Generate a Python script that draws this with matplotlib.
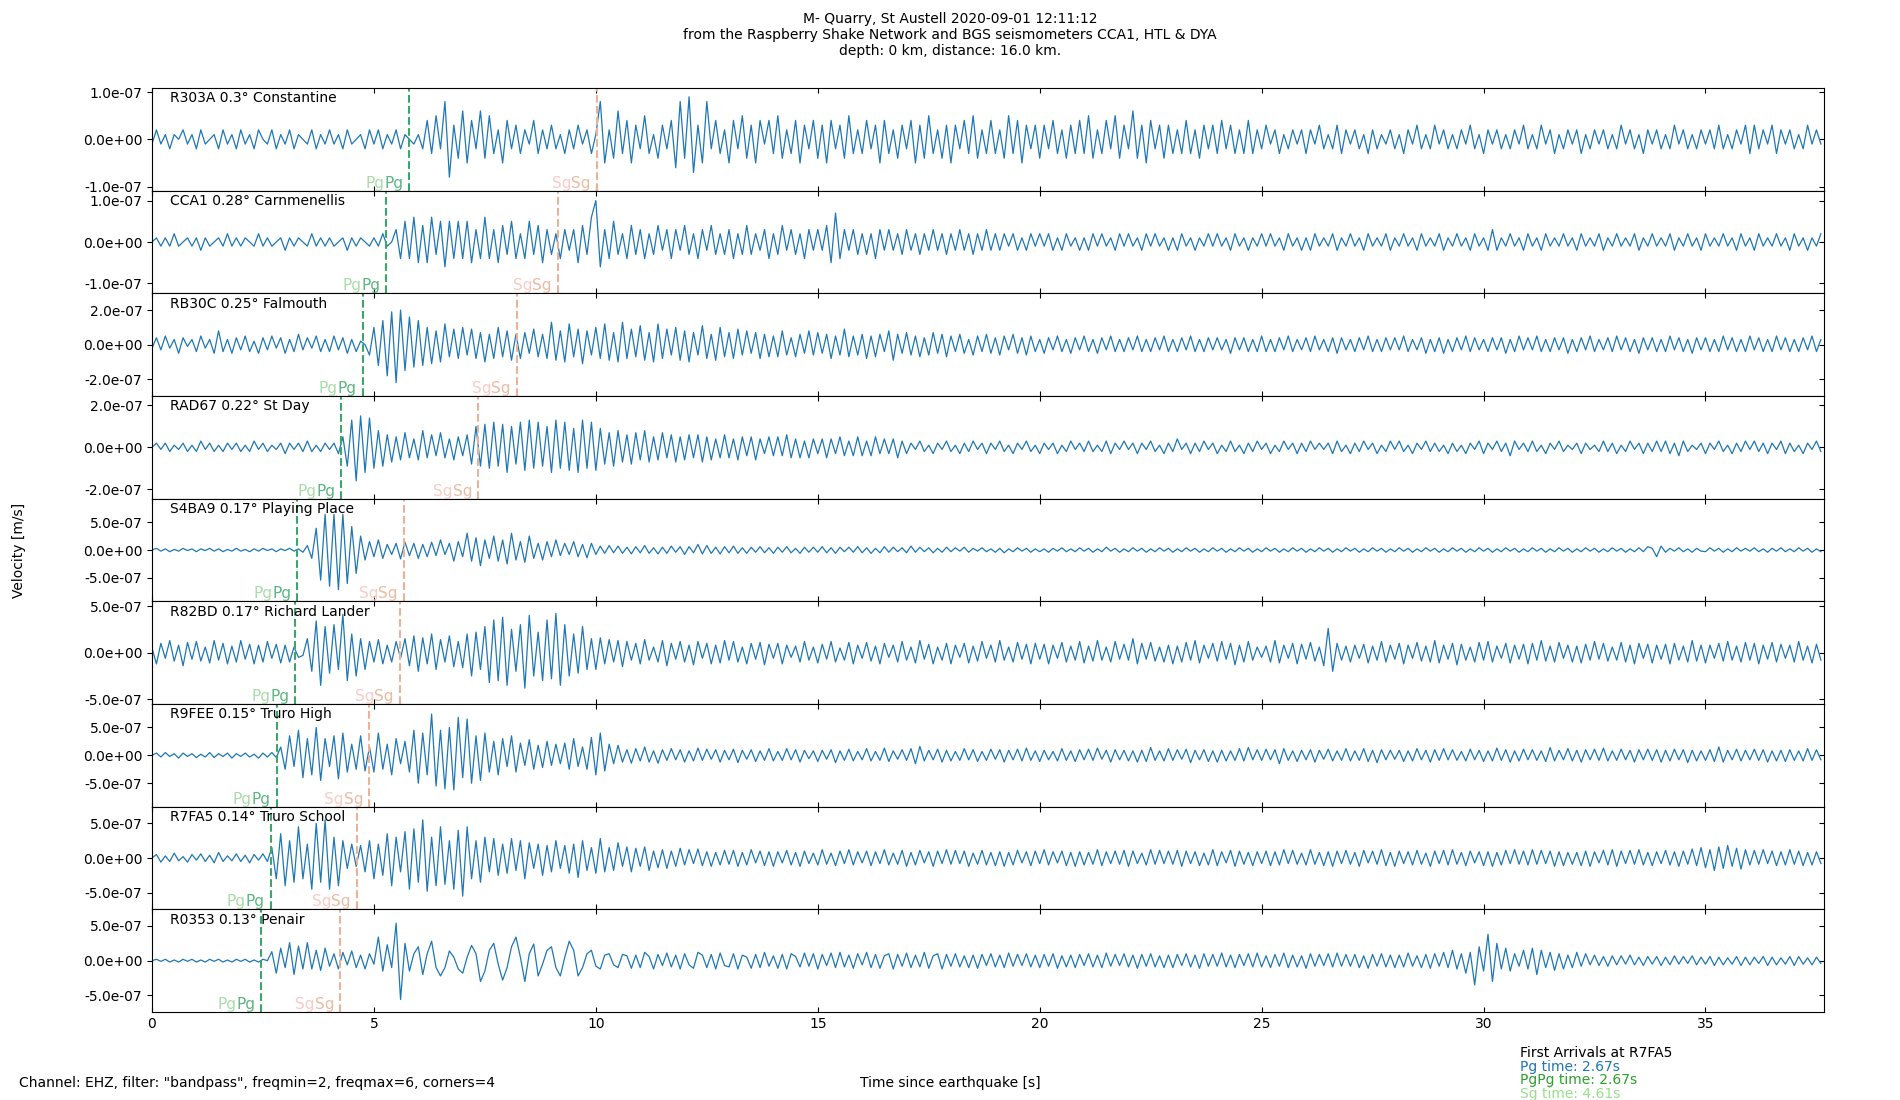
import numpy as np
import matplotlib
matplotlib.use('Agg')
import matplotlib.pyplot as plt
import matplotlib.lines as mlines
from matplotlib.ticker import FormatStrFormatter

# traces sampled every 0.1 s, values in units of 1e-8 m/s (one row = one second)
dt = 0.1
unit = 1e-8

r303a = [
    -1, 2, -1, 1, -2, 1, 0, 2, -1, 1,
    -2, 2, -1, 0, 1, -2, 2, -1, 1, -2,
    2, -1, 1, -2, 2, 0, -1, 2, -2, 1,
    -1, 2, -2, 1, 0, -1, 2, -2, 1, -1,
    2, -1, 1, -2, 2, -1, 0, 1, -2, 2,
    -1, 2, -2, 1, -1, 2, -2, 1, 0, -1,
    1, -2, 4, -3, 5, -2, 8, -8, 3, -4,
    6, -5, 4, -2, 6, -4, 5, -3, 2, -5,
    4, -2, 3, -3, 2, -1, 4, -3, 2, -2,
    3, -2, 1, -3, 2, -2, 3, -1, 2, -3,
    1, 8, -5, 2, -4, 6, -3, 4, -5, 3,
    -2, 5, -3, 1, -4, 3, -2, 4, -6, 8,
    -4, 9, -7, 3, -5, 8, -2, 4, -3, 2,
    -5, 4, -2, 5, -4, 3, -5, 4, -1, 4,
    -3, 5, -4, 2, -3, 4, -5, 3, -2, 4,
    -4, 3, -5, 4, -2, 3, -4, 5, -3, 2,
    -3, 4, -2, 3, -5, 4, -3, 2, -4, 3,
    -2, 4, -5, 3, -4, 5, -3, 2, -4, 3,
    -5, 3, -2, 4, -3, 5, -4, 2, -3, 4,
    -3, 2, -4, 5, -3, 4, -5, 3, -2, 3,
    -4, 3, -2, 4, -3, 2, -4, 3, -3, 4,
    -3, 5, -4, 2, -3, 4, -2, 5, -4, 3,
    -2, 6, -4, 3, -5, 4, -2, 3, -4, 3,
    -3, 2, -3, 4, -3, 2, -4, 3, -2, 3,
    -3, 4, -2, 3, -3, 2, -3, 4, -3, 2,
    -2, 3, -1, 2, -3, 1, -2, 2, -1, 2,
    -3, 2, -1, 3, -2, 1, -2, 3, -3, 2,
    -1, 2, -2, 1, -3, 2, -2, 1, -1, 2,
    -2, 1, -3, 2, -1, 3, -2, 1, -2, 3,
    -1, 2, -2, 1, -2, 2, -1, 3, -2, 1,
    -3, 2, -1, 2, -2, 1, -2, 2, -1, 3,
    -2, 1, -2, 3, -1, 2, -3, 1, -2, 2,
    -1, 2, -3, 1, -2, 2, -1, 2, -2, 1,
    -2, 3, -1, 2, -2, 1, -3, 2, -1, 2,
    -2, 1, -2, 3, -1, 2, -2, 1, -2, 2,
    -1, 2, -2, 3, -2, 1, -2, 2, -1, 3,
    -3, 3, -2, 2, -1, 3, -3, 2, -1, 2,
    -2, 1, -2, 3, -1, 2, -1,
]

cca1 = [
    0, 1, -1, 1, -1, 2, -1, 0, 1, -1,
    1, -2, 1, -1, 0, 1, -1, 2, -1, 1,
    -1, 1, 0, -1, 2, -1, 1, -1, 0, 1,
    -2, 1, -1, 1, 0, -1, 2, -1, 1, -1,
    1, -1, 0, 1, -2, 1, -1, 1, 0, -1,
    1, -1, 2, -1, 0, 3, -4, 5, -4, 6,
    -5, 4, -5, 6, -3, 5, -6, 5, -4, 5,
    -4, 5, -5, 3, -4, 6, -4, 3, -5, 4,
    -3, 5, -4, 2, -4, 5, -3, 4, -5, 3,
    -3, 2, -4, 3, -2, 3, -5, 4, -3, 6,
    10, -6, 3, -4, 5, -3, 2, -4, 4, -3,
    3, -4, 2, -3, 4, -2, 3, -4, 3, -2,
    4, -3, 2, -4, 3, -2, 4, -3, 2, -3,
    3, -4, 2, -3, 4, -3, 2, -2, 3, -4,
    2, -3, 4, -2, 3, -3, 2, -4, 3, -2,
    3, -2, 4, -5, 7, -4, 3, -2, 3, -3,
    2, -3, 2, -4, 3, -2, 3, -2, 2, -3,
    3, -2, 2, -3, 2, -2, 3, -2, 2, -3,
    2, -2, 3, -2, 2, -3, 2, -2, 3, -2,
    2, -2, 2, -1, 2, -2, 1, -2, 2, -1,
    2, -1, 2, -2, 1, -2, 2, -1, 1, -2,
    1, -2, 2, -1, 2, -1, 1, -2, 2, -1,
    2, -1, 1, -2, 2, -1, 2, -1, 1, -2,
    1, -2, 2, -1, 1, -2, 1, -1, 2, -1,
    2, -1, 1, -2, 2, -1, 1, -2, 1, -1,
    2, -1, 2, -1, 1, -2, 2, -1, 1, -2,
    1, -2, 2, -1, 1, -1, 2, -2, 1, -1,
    2, -1, 1, -2, 2, -1, 1, -1, 2, -2,
    1, -1, 2, -1, 1, -2, 2, -1, 1, -1,
    2, -2, 1, -1, 2, -1, 1, -2, 2, -1,
    1, -2, 3, -2, 1, -1, 2, -1, 1, -2,
    2, -1, 1, -2, 2, -1, 1, -1, 2, -1,
    1, -2, 2, -1, 1, -1, 2, -2, 1, -1,
    2, -1, 1, -1, 2, -2, 1, -1, 2, -1,
    1, -1, 2, -2, 1, -1, 2, -1, 1, -2,
    2, -1, 1, -1, 2, -1, 1, -2, 2, -1,
    1, -2, 2, -1, 1, -1, 2, -1, 1, -2,
    2, -1, 1, -2, 1, -1, 2,
]

rb30c = [
    -2, 4, -3, 5, -2, 3, -5, 4, -1, 3,
    -4, 5, -2, 3, -5, 8, -4, 3, -5, 4,
    -3, 5, -4, 2, -5, 4, -3, 5, -2, 4,
    -5, 3, -4, 6, -3, 4, -2, 5, -4, 3,
    -4, 5, -3, 4, -5, 3, -4, 2, 0, -6,
    10, -12, 14, -18, 19, -22, 20, -15, 16, -13,
    14, -12, 10, -11, 8, -10, 12, -7, 9, -8,
    10, -6, 9, -8, 7, -10, 6, -8, 10, -7,
    8, -9, 6, -8, 7, -5, 9, -7, 6, -8,
    13, -9, 8, -10, 12, -7, 9, -11, 8, -6,
    10, -8, 12, -9, 7, -10, 13, -8, 9, -7,
    11, -9, 7, -10, 12, -8, 9, -6, 10, -9,
    8, -10, 7, -6, 11, -8, 6, -9, 10, -7,
    7, -8, 9, -6, 8, -5, 7, -8, 6, -7,
    5, -7, 8, -6, 4, -7, 6, -5, 8, -6,
    7, -5, 6, -8, 5, -6, 9, -7, 5, -6,
    6, -8, 5, -7, 6, -4, 8, -9, 6, -5,
    7, -6, 5, -7, 4, -6, 7, -5, 6, -7,
    5, -4, 6, -5, 3, -6, 5, -4, 6, -5,
    4, -6, 5, -3, 6, -5, 4, -6, 5, -4,
    3, -5, 4, -3, 5, -4, 3, -5, 4, -3,
    5, -4, 3, -5, 4, -3, 5, -4, 3, -4,
    4, -3, 5, -4, 3, -4, 4, -3, 5, -4,
    3, -4, 4, -3, 5, -4, 3, -4, 4, -3,
    4, -3, 3, -5, 4, -3, 4, -4, 3, -4,
    5, -4, 3, -4, 4, -3, 5, -4, 3, -3,
    4, -4, 5, -3, 3, -4, 4, -5, 4, -3,
    3, -4, 4, -3, 5, -4, 3, -4, 4, -3,
    4, -3, 5, -4, 3, -3, 4, -5, 3, -4,
    4, -5, 3, -4, 4, -3, 5, -4, 4, -3,
    3, -4, 4, -3, 4, -5, 3, -4, 5, -3,
    4, -3, 5, -4, 3, -4, 4, -3, 4, -5,
    3, -4, 4, -3, 5, -4, 3, -3, 4, -4,
    5, -3, 4, -4, 3, -5, 4, -3, 4, -4,
    3, -4, 5, -3, 4, -4, 3, -5, 4, -3,
    4, -4, 3, -4, 5, -3, 4, -4, 3, -4,
    5, -3, 4, -4, 3, -4, 5, -3, 4, -4,
    3, -4, 4, -3, 5, -4, 3,
]

rad67 = [
    0, 2, -1, 2, -2, 1, -1, 2, -2, 1,
    -2, 3, -1, 2, -2, 1, -2, 2, -1, 2,
    -2, 1, -2, 3, -1, 2, -2, 1, -1, 2,
    -3, 2, -1, 2, -2, 3, -2, 1, -2, 2,
    -1, 2, -3, 5, -9, 13, -16, 15, -12, 14,
    -10, 8, -9, 6, -7, 5, -6, 7, -5, 4,
    -6, 8, -5, 6, -4, 7, -5, 4, -6, 5,
    -4, 6, -8, 10, -9, 11, -10, 12, -9, 11,
    -12, 10, -8, 12, -11, 13, -10, 12, -9, 10,
    -12, 13, -10, 12, -11, 9, -12, 13, -10, 12,
    -11, 9, -8, 7, -9, 8, -7, 6, -8, 7,
    -6, 8, -7, 5, -6, 7, -5, 6, -7, 5,
    -6, 6, -5, 6, -7, 5, -6, 4, -5, 6,
    -5, 4, -6, 5, -4, 5, -6, 4, -3, 5,
    -4, 5, -4, 6, -5, 4, -5, 3, -5, 4,
    -3, 4, -5, 4, -3, 5, -4, 3, -4, 5,
    -4, 3, -4, 5, -3, 4, -3, 4, -5, 3,
    -3, 2, -1, 3, -2, 1, -3, 2, -1, 3,
    -2, 1, -3, 2, -2, 3, -1, 2, -3, 2,
    -1, 3, -2, 1, -3, 2, -1, 3, -2, 1,
    -3, 2, -1, 2, -3, 1, -2, 3, -1, 2,
    -2, 3, -2, 1, -2, 3, -3, 2, -1, 3,
    -1, 2, -3, 2, -1, 3, -2, 1, -3, 2,
    -2, 4, -1, 2, -3, 2, -2, 3, -1, 2,
    -3, 1, -2, 3, -2, 1, -3, 2, -2, 3,
    -1, 2, -3, 1, -2, 3, -1, 2, -3, 2,
    -2, 3, -1, 2, -1, 2, -3, 3, -2, 1,
    -3, 2, -2, 3, -1, 2, -3, 1, -2, 3,
    -1, 3, -2, 1, -3, 2, -1, 3, -2, 2,
    -2, 1, -3, 2, -2, 1, -3, 2, -1, 3,
    -3, 2, -1, 3, -2, 2, -4, 3, -1, 2,
    -2, 3, -2, 1, -3, 2, -1, 3, -2, 1,
    -1, 2, -3, 2, -1, 1, -2, 3, -2, 2,
    -3, 1, -2, 3, -1, 2, -3, 2, -2, 3,
    -2, 3, -3, 2, -4, 3, -2, 1, -1, 2,
    -3, 2, -1, 3, -2, 1, -3, 2, -2, 3,
    -1, 3, -2, 2, -3, 2, -1, 3, -3, 2,
    -2, 1, -3, 2, -1, 3, -2,
]

s4ba9 = [
    0, 3, -2, 2, -3, 1, -2, 3, -1, 2,
    -3, 2, -1, 3, -2, 2, -3, 1, -2, 3,
    -2, 1, -3, 2, -2, 3, -1, 2, -3, 2,
    -1, 3, -2, 2, -4, 8, -15, 39, -54, 64,
    -65, 64, -71, 64, -60, 42, -42, 25, -18, 15,
    -12, 18, -15, 10, -8, 12, -16, 14, -10, 12,
    -15, 10, -12, 14, -10, 18, -8, 12, -20, 15,
    -12, 30, -20, 22, -28, 18, -15, 25, -20, 18,
    -25, 30, -18, 15, -22, 25, -15, 12, -18, 15,
    -12, 18, -10, 12, -8, 15, -12, 10, -14, 12,
    -8, 7, -6, 8, -5, 7, -6, 5, -7, 6,
    -5, 8, -6, 4, -7, 5, -6, 7, -4, 6,
    -8, 6, -5, 10, -7, 8, -6, 5, -7, 6,
    -5, 7, -6, 4, -6, 5, -4, 6, -5, 4,
    -6, 5, -4, 6, -5, 3, -6, 5, -4, 5,
    -4, 6, -5, 4, -6, 5, -3, 5, -4, 6,
    -5, 4, -6, 3, -5, 6, -4, 5, -3, 4,
    -5, 7, -4, 5, -3, 4, -5, 3, -4, 5,
    -3, 4, -2, 5, -4, 3, -2, 4, -3, 2,
    -4, 3, -5, 2, -3, 4, -2, 3, -4, 2,
    -3, 2, -4, 3, -2, 4, -3, 2, -3, 4,
    -2, 3, -4, 2, -3, 5, -2, 3, -4, 2,
    -3, 4, -2, 3, -4, 2, -3, 4, -2, 3,
    -4, 2, -3, 4, -2, 3, -4, 2, -3, 4,
    -2, 3, -4, 2, -3, 4, -2, 3, -4, 2,
    -3, 4, -2, 3, -4, 2, -3, 4, -2, 3,
    -4, 2, -3, 4, -2, 3, -4, 2, -3, 4,
    -2, 3, -4, 2, -3, 4, -2, 3, -4, 2,
    -3, 4, -2, 3, -4, 2, -3, 4, -2, 3,
    -4, 2, -3, 4, -2, 3, -4, 2, -3, 4,
    -2, 3, -4, 2, -3, 4, -2, 3, -4, 2,
    -3, 4, -2, 3, -4, 2, -3, 4, -2, 3,
    -4, 2, -3, 4, -2, 3, -4, 2, -3, 4,
    -2, 3, -4, 2, -3, 4, -3, 6, 3, -12,
    7, -4, 3, -2, 4, -3, 2, -4, 3, -2,
    -3, 4, -2, 3, -4, 2, -3, 4, -2, 3,
    -2, 4, -3, 2, -4, 3, -2, 4, -3, 2,
    -3, 4, -2, 3, -4, 2, -3,
]

r82bd = [
    5, -12, 10, -6, 13, -9, 8, -14, 11, -7,
    12, -9, 6, -11, 13, -8, 10, -12, 7, -10,
    13, -7, 9, -12, 8, -10, 12, -6, 9, -11,
    8, -10, 6, -5, -3, 15, -20, 34, -35, 28,
    -22, 30, -18, 41, -30, 20, -25, 15, -18, 12,
    -10, 14, -12, 8, -10, 12, -6, 15, -14, 18,
    -20, 16, -12, 20, -18, 14, -10, 18, -15, 12,
    -16, 20, -25, 22, -18, 28, -32, 35, -30, 38,
    -35, 25, -20, 30, -38, 40, -25, 22, -30, 35,
    -28, 42, -35, 30, -25, 20, -22, 28, -18, 15,
    -18, 16, -12, 14, -10, 13, -15, 12, -8, 10,
    -12, 14, -8, 6, -10, 13, -14, 10, -7, 12,
    -10, 8, -13, 12, -6, 10, -12, 8, -11, 13,
    -8, 12, -10, 6, -12, 10, -7, 11, -13, 9,
    -6, 10, -12, 8, -5, 7, -10, 12, -8, 6,
    -11, 9, -7, 12, -10, 5, -8, 11, -12, 8,
    -6, 11, -9, 7, -12, 10, -5, 8, -10, 12,
    -8, 6, -11, 13, -7, 9, -12, 6, -8, 10,
    -12, 8, -5, 10, -11, 7, -9, 12, -6, 8,
    -10, 13, -8, 6, -10, 11, -7, 9, -12, 10,
    -7, 9, -12, 8, -6, 11, -10, 7, -8, 12,
    -11, 7, -9, 13, -8, 6, -10, 12, -7, 9,
    -8, 15, -12, 10, -7, 11, -9, 6, -10, 8,
    -12, 7, -10, 11, -8, 13, -11, 8, -6, 10,
    -9, 12, -7, 10, -13, 8, -10, 12, -8, 6,
    -5, 7, -10, 13, -11, 8, -6, 10, -12, 9,
    -7, 11, -9, 6, -14, 26, -20, 10, -8, 7,
    -10, 8, -6, 9, -11, 7, -8, 12, -10, 8,
    -7, 10, -12, 8, -6, 11, -9, 7, -10, 13,
    -11, 8, -7, 10, -13, 9, -8, 6, -10, 11,
    -8, 12, -10, 7, -6, 10, -11, 8, -7, 9,
    -12, 10, -8, 13, -9, 7, -10, 11, -6, 8,
    -10, 7, -11, 9, -8, 12, -7, 10, -9, 6,
    -8, 11, -10, 8, -12, 10, -6, 9, -11, 8,
    -7, 9, -12, 10, -8, 7, -10, 13, -9, 8,
    -11, 8, -6, 10, -9, 12, -8, 7, -10, 11,
    -8, 10, -12, 8, -7, 11, -10, 9, -6, 8,
    -10, 12, -8, 7, -11, 9, -8,
]

r9fee = [
    0, 4, -3, 5, -2, 3, -5, 4, -2, 3,
    -4, 2, -3, 5, -4, 3, -2, 4, -5, 3,
    -2, 4, -3, 2, -5, 4, -3, 5, -4, 15,
    -25, 35, -20, 45, -40, 30, -35, 50, -45, 30,
    -20, 35, -42, 40, -30, 20, -25, 35, -28, 15,
    -30, 40, -25, 20, -35, 30, -15, 25, -30, 45,
    -50, 40, -35, 74, -55, 45, -60, 50, -62, 68,
    -40, 65, -50, 35, -45, 40, -30, 25, -35, 30,
    -20, 35, -30, 22, -18, 28, -25, 18, -22, 25,
    -18, 20, -15, 22, -25, 30, -20, 15, -25, 32,
    -35, 40, -28, 20, -15, 18, -12, 10, -14, 12,
    -10, 15, -12, 8, -14, 10, -9, 12, -8, 10,
    -12, 8, -10, 13, -9, 11, -7, 10, -12, 9,
    -8, 11, -13, 9, -7, 10, -11, 8, -9, 12,
    -10, 7, -9, 12, -8, 10, -12, 9, -6, 8,
    -11, 9, -7, 10, -13, 8, -9, 11, -10, 7,
    -8, 12, -10, 7, -9, 13, -11, 8, -7, 10,
    -9, 12, -15, 16, -10, 9, -8, 11, -12, 9,
    -10, 7, -9, 12, -8, 10, -11, 7, -9, 11,
    -7, 10, -12, 9, -8, 11, -10, 13, -9, 8,
    -11, 9, -8, 7, -10, 12, -9, 8, -11, 10,
    -8, 11, -9, 13, -7, 9, -12, 10, -8, 9,
    -10, 8, -12, 9, -11, 14, -9, 8, -10, 12,
    -9, 10, -7, 11, -13, 9, -8, 10, -11, 8,
    -12, 9, -10, 8, -9, 12, -10, 14, -8, 10,
    -9, 11, -8, 10, -15, 12, -9, 8, -11, 9,
    -8, 10, -12, 9, -7, 11, -10, 8, -9, 12,
    -10, 8, -9, 12, -11, 9, -13, 10, -8, 9,
    -7, 9, -11, 8, -10, 12, -8, 9, -12, 10,
    -9, 12, -8, 10, -9, 7, -10, 11, -8, 9,
    -11, 8, -10, 13, -9, 10, -12, 8, -10, 11,
    -8, 10, -9, 8, -11, 14, -10, 9, -8, 12,
    -10, 9, -12, 10, -8, 11, -9, 13, -10, 8,
    -9, 11, -8, 9, -12, 10, -8, 11, -9, 10,
    -12, 9, -10, 11, -8, 10, -13, 9, -10, 8,
    -9, 10, -11, 15, -12, 9, -8, 11, -10, 9,
    -8, 11, -9, 10, -12, 8, -10, 9, -11, 10,
    -9, 8, -10, 12, -9, 10, -8,
]

r7fa5 = [
    0, 5, -6, 3, -5, 7, -4, 2, -6, 5,
    -3, 6, -5, 4, -7, 8, -5, 3, -4, 6,
    -5, 4, -7, 5, -3, 6, -5, 15, -30, 35,
    -40, 25, -35, 45, -30, 20, -45, 50, -35, 55,
    -45, 30, -40, 25, -15, 20, -12, 18, -20, 25,
    -30, 20, -25, 35, -40, 30, -20, 38, -45, 42,
    -35, 55, -48, 30, -40, 45, -38, 25, -45, 40,
    -55, 45, -30, 25, -35, 30, -20, 28, -25, 20,
    -22, 28, -18, 25, -30, 22, -15, 20, -25, 18,
    -20, 25, -15, 18, -22, 20, -28, 25, -18, 15,
    -22, 28, -20, 15, -18, 22, -12, 16, -20, 14,
    -12, 16, -18, 10, -14, 12, -15, 10, -12, 14,
    -10, 12, -8, 13, -11, 9, -12, 8, -10, 11,
    -9, 11, -12, 8, -10, 12, -7, 10, -11, 9,
    -12, 9, -7, 11, -10, 8, -12, 10, -8, 7,
    -10, 12, -9, 7, -11, 10, -8, 12, -10, 9,
    -7, 10, -11, 9, -8, 12, -10, 7, -9, 11,
    -12, 8, -10, 11, -7, 9, -12, 10, -8, 12,
    -9, 11, -8, 10, -12, 7, -9, 11, -10, 8,
    -11, 9, -12, 8, -10, 11, -7, 9, -11, 10,
    -8, 12, -10, 9, -7, 10, -11, 8, -12, 9,
    -10, 8, -9, 12, -11, 9, -8, 10, -9, 11,
    -12, 10, -8, 7, -10, 12, -9, 11, -8, 10,
    -9, 11, -12, 10, -8, 9, -11, 7, -10, 12,
    -11, 9, -7, 11, -12, 10, -9, 8, -11, 9,
    -8, 10, -11, 9, -10, 12, -8, 11, -9, 7,
    -10, 12, -9, 8, -11, 9, -12, 10, -8, 11,
    -9, 8, -12, 11, -7, 10, -9, 12, -11, 8,
    -12, 10, -8, 9, -10, 11, -9, 7, -12, 10,
    -8, 11, -10, 12, -9, 8, -11, 10, -7, 9,
    -11, 9, -12, 8, -10, 11, -8, 12, -9, 10,
    -10, 12, -9, 11, -8, 10, -12, 9, -11, 8,
    -9, 8, -11, 10, -12, 9, -7, 11, -10, 12,
    -12, 10, -8, 11, -9, 12, -10, 8, -11, 9,
    -8, 11, -10, 9, -12, 10, -9, 13, -11, 15,
    -14, 12, -18, 16, -15, 18, -12, 14, -16, 12,
    -10, 11, -9, 12, -8, 10, -11, 9, -10, 12,
    -9, 10, -11, 8, -10, 9, -8,
]

r0353 = [
    0, 2, -1, 2, -2, 1, -2, 2, -1, 2,
    -2, 1, -2, 2, -1, 2, -2, 1, -2, 2,
    -1, 2, -2, 1, -2, 2, 0, 13, -18, 18,
    -10, 26, -20, 21, -12, 26, -12, 15, -14, 18,
    -8, 10, -12, 12, -6, 14, -10, 8, -12, 10,
    -5, 34, -15, 23, -10, 54, -56, 25, -15, 10,
    20, -20, 10, 28, -10, -22, -10, 14, 5, -12,
    -18, 5, 22, 10, -30, -15, 15, 25, -5, -28,
    -10, 20, 34, 5, -30, 10, 24, -22, -5, 15,
    20, -10, -22, 5, 28, 15, -22, -10, 10, 15,
    -8, -12, 8, 10, -6, -10, 9, 7, -11, 8,
    -10, 12, 6, -12, 9, -7, 11, -9, 8, -12,
    10, -6, -11, 12, 8, -10, 9, -12, 11, -7,
    -9, 10, -12, 8, 5, -11, 9, -10, 12, -8,
    7, -11, 9, -12, 10, 6, -9, 11, -8, 10,
    -12, 9, -7, 11, -10, 12, -9, 8, -11, 10,
    -6, 12, -10, 9, -11, 7, 10, -12, 9, -8,
    11, -10, 8, -9, 12, -11, 7, 10, -12, 9,
    -8, 10, -9, 7, -10, 8, -11, 9, -7, 10,
    -9, 8, -10, 11, -8, 9, -7, 10, -9, 8,
    -10, 9, -8, 10, -11, 7, -9, 8, -10, 9,
    -7, 10, -9, 8, -10, 11, -8, 9, -7, 10,
    -9, 8, -11, 9, -8, 10, -9, 7, -10, 8,
    -10, 9, -7, 10, -9, 8, -11, 10, -8, 9,
    -8, 11, -9, 8, -10, 9, -7, 10, -9, 11,
    -9, 7, -10, 9, -8, 11, -10, 8, -9, 7,
    -11, 10, -8, 9, -7, 10, -9, 11, -8, 9,
    -8, 9, -10, 7, -11, 9, -8, 10, -9, 8,
    -10, 8, -9, 11, -8, 7, -10, 9, -11, 10,
    -8, 12, -10, 15, -12, 10, -18, 12, -35, 20,
    -15, 38, -30, 25, -12, 18, -15, 10, -8, 15,
    -12, 18, -20, 15, -10, 12, -14, 10, -12, 8,
    -10, 12, -8, 10, -6, 8, -7, 6, -8, 7,
    -6, 7, -5, 8, -6, 5, -7, 6, -5, 6,
    -7, 5, -6, 7, -5, 6, -4, 7, -6, 5,
    -5, 6, -7, 5, -6, 4, -5, 6, -7, 5,
    -6, 5, -4, 6, -7, 5, -6, 4, -5, 6,
    -7, 6, -5, 4, -6, 5, -4,
]

traces = [r303a, cca1, rb30c, rad67, s4ba9, r82bd, r9fee, r7fa5, r0353]
labels = ['R303A 0.3° Constantine', 'CCA1 0.28° Carnmenellis', 'RB30C 0.25° Falmouth',
          'RAD67 0.22° St Day', 'S4BA9 0.17° Playing Place', 'R82BD 0.17° Richard Lander',
          'R9FEE 0.15° Truro High', 'R7FA5 0.14° Truro School', 'R0353 0.13° Penair']
pg_times = [5.80, 5.28, 4.75, 4.26, 3.27, 3.23, 2.81, 2.67, 2.46]
sg_times = [10.02, 9.14, 8.22, 7.35, 5.67, 5.58, 4.89, 4.61, 4.24]
ytick_step = [1e-7, 1e-7, 2e-7, 2e-7, 5e-7, 5e-7, 5e-7, 5e-7, 5e-7]
ylims = [1.085e-7, 1.24e-7, 2.97e-7, 2.45e-7, 9.2e-7, 5.5e-7, 9.2e-7, 7.4e-7, 7.4e-7]
t_end = 37.67

title = ('M- Quarry, St Austell 2020-09-01 12:11:12\n'
         'from the Raspberry Shake Network and BGS seismometers CCA1, HTL & DYA\n'
         'depth: 0 km, distance: 16.0 km.')

fig, axes = plt.subplots(9, 1, sharex=True, figsize=(19, 11), dpi=100)
fig.subplots_adjust(left=0.08, right=0.96, top=0.92, bottom=0.08, hspace=0)

for k, ax in enumerate(axes):
    v = np.array(traces[k]) * unit
    t = np.arange(len(v)) * dt
    ax.plot(t, v, color='#1f77b4', lw=0.9)
    ax.set_ylim(-ylims[k], ylims[k])
    ax.set_xlim(0, t_end)
    a = ytick_step[k]
    ax.set_yticks([-a, 0, a])
    ax.yaxis.set_major_formatter(FormatStrFormatter('%.1e'))
    ax.tick_params(axis='x', direction='in', top=True, bottom=True)
    ax.tick_params(axis='y', direction='out', right=True)
    for tk in ax.yaxis.get_major_ticks():
        tk.tick2line.set_marker(mlines.TICKLEFT)
    ax.text(0.0105, 0.968, labels[k], transform=ax.transAxes, va='top', ha='left', fontsize=10)

    # arrival markers: Pg/PgPg and Sg/SgSg coincide here
    ax.axvline(pg_times[k], color='#3aa66b', ls='--', lw=1.5)
    ax.axvline(sg_times[k], color='#e8b398', ls='--', lw=1.5)
    for name, light, dark, tt in [('Pg', '#a9dcab', '#5cb680', pg_times[k]),
                                  ('Sg', '#f8cbc5', '#ebbaa2', sg_times[k])]:
        first = ax.annotate(name, xy=(tt, 0), xycoords=('data', 'axes fraction'),
                            xytext=(-6, 0), textcoords='offset pixels',
                            ha='right', va='bottom', fontsize=11, color=dark)
        ax.annotate(name, xy=(0, 0), xycoords=first, ha='right', va='bottom',
                    fontsize=11, color=light)

axes[-1].set_xticks(np.arange(0, 36, 5))

fig.suptitle(title, fontsize=10, y=0.9895)
fig.text(0.0102, 0.5, 'Velocity [m/s]', rotation=90, va='center', ha='center', fontsize=10)
fig.text(0.5, 0.0153, 'Time since earthquake [s]', ha='center', va='center', fontsize=10)
fig.text(0.0102, 0.0153, 'Channel: EHZ, filter: "bandpass", freqmin=2, freqmax=6, corners=4',
         ha='left', va='center', fontsize=10)

info = [('First Arrivals at R7FA5', 'black'), ('Pg time: 2.67s', '#1f77b4'),
        ('PgPg time: 2.67s', '#2ca02c'), ('Sg time: 4.61s', '#98df8a')]
for i, (s, c) in enumerate(info):
    fig.text(0.8, 0.0428 - i * 0.0124, s, color=c, ha='left', va='center', fontsize=10)

fig.savefig('out.png', dpi=100)
